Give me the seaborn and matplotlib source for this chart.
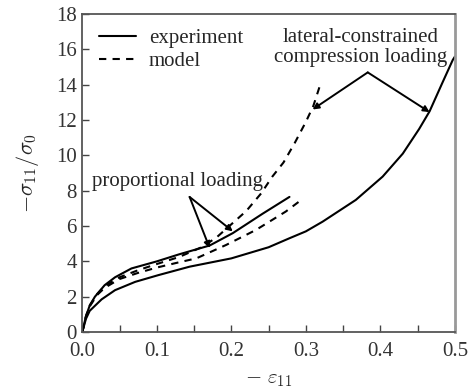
import matplotlib
matplotlib.use("Agg")
import matplotlib.pyplot as plt
import seaborn as sns
import pandas as pd
from matplotlib.lines import Line2D

# experiment, proportional loading
prop_exp_x = [0, 0.005, 0.01, 0.017, 0.03, 0.044, 0.066, 0.1, 0.13, 0.171, 0.202, 0.242, 0.278]
prop_exp_y = [0, 0.9, 1.5, 2.0, 2.65, 3.1, 3.6, 4.0, 4.4, 4.9, 5.6, 6.7, 7.65]
# experiment, lateral-constrained compression
lat_exp_x = [0, 0.005, 0.01, 0.026, 0.044, 0.071, 0.102, 0.144, 0.2, 0.25, 0.278, 0.3, 0.3225,
             0.367, 0.403, 0.43, 0.452, 0.466, 0.483, 0.497, 0.5]
lat_exp_y = [0, 0.75, 1.2, 1.85, 2.37, 2.84, 3.22, 3.7, 4.17, 4.8, 5.31, 5.7, 6.25,
             7.48, 8.8, 10.1, 11.5, 12.5, 14.1, 15.4, 15.6]
# model, proportional loading
prop_mod_x = [0, 0.005, 0.01, 0.02, 0.03, 0.05, 0.075, 0.1, 0.13, 0.153, 0.193, 0.233, 0.273, 0.291]
prop_mod_y = [0, 0.85, 1.45, 2.1, 2.5, 3.0, 3.35, 3.65, 3.95, 4.17, 4.93, 5.78, 6.82, 7.39]
# model, lateral-constrained compression
lat_mod_x = [0, 0.005, 0.01, 0.02, 0.03, 0.05, 0.075, 0.1, 0.13, 0.16, 0.18, 0.2, 0.22, 0.24,
             0.255, 0.27, 0.285, 0.3, 0.31, 0.32]
lat_mod_y = [0, 0.9, 1.5, 2.15, 2.6, 3.1, 3.5, 3.85, 4.25, 4.8, 5.35, 6.1, 6.85, 7.85,
             8.8, 9.6, 10.7, 11.9, 12.8, 14.1]

x_ticks = [0.0, 0.1, 0.2, 0.3, 0.4, 0.5]
y_ticks = [0, 2, 4, 6, 8, 10, 12, 14, 16, 18]

sns.set_theme(style="ticks")
plt.rcParams["font.family"] = ["Liberation Serif", "DejaVu Serif"]
plt.rcParams["mathtext.fontset"] = "cm"

fig = plt.figure(figsize=(4.7, 3.92), dpi=100)
ax = fig.add_axes([0.175, 0.153, 0.793, 0.811])

dash = (0, (3.5, 3))
series = [
    (prop_exp_x, prop_exp_y, "-"),
    (lat_exp_x, lat_exp_y, "-"),
    (prop_mod_x, prop_mod_y, dash),
    (lat_mod_x, lat_mod_y, dash),
]
for xs, ys, ls in series:
    df = pd.DataFrame({"x": xs, "y": ys})
    sns.lineplot(data=df, x="x", y="y", ax=ax, color="black", linestyle=ls,
                 linewidth=1.5, sort=False, estimator=None)

ax.set_xlim(0, 0.5)
ax.set_ylim(0, 18)
ax.set_xticks(x_ticks)
ax.set_xticklabels([f"{v:.1f}" for v in x_ticks])
ax.set_xticks([0.05, 0.15, 0.25, 0.35, 0.45], minor=True)
ax.set_yticks(y_ticks)
ax.tick_params(axis="both", which="both", direction="in", labelsize=15, length=5,
               width=1.0, color="#444444", top=False, right=False, labelcolor="#333333")
ax.tick_params(axis="y", pad=4)
ax.tick_params(axis="x", pad=7)
for s in ax.spines.values():
    s.set_color("#555555")
    s.set_linewidth(1.3)
ax.spines["right"].set_color("#999999")
ax.spines["right"].set_linewidth(2)

ax.set_xlabel(r"$-\ \varepsilon_{11}$", fontsize=15, labelpad=7)
ax.set_ylabel(r"$-\sigma_{11}/\sigma_0$", fontsize=16, labelpad=11)

handles = [Line2D([], [], color="black", linestyle="-", linewidth=1.5),
           Line2D([], [], color="black", linestyle=dash, linewidth=1.5)]
ax.legend(handles, ["experiment", "model"], loc="upper left", frameon=False,
          fontsize=15, handlelength=1.8, handletextpad=0.6, borderaxespad=0.3,
          labelspacing=0.15, bbox_to_anchor=(0.005, 1.0))

arrow = dict(arrowstyle="-|>", color="black", lw=1.4, mutation_scale=9, shrinkA=0, shrinkB=0)
ax.text(0.373, 16.1, "lateral-constrained\ncompression loading", ha="center", va="center",
        fontsize=15, linespacing=1.1)
ax.annotate("", xy=(0.309, 12.6), xytext=(0.383, 14.7), arrowprops=arrow)
ax.annotate("", xy=(0.466, 12.45), xytext=(0.383, 14.7), arrowprops=arrow)

ax.text(0.128, 8.5, "proportional loading", ha="center", va="center", fontsize=15)
ax.annotate("", xy=(0.171, 4.75), xytext=(0.144, 7.65), arrowprops=arrow)
ax.annotate("", xy=(0.202, 5.7), xytext=(0.144, 7.65), arrowprops=arrow)

fig.savefig("out.png", dpi=100)
